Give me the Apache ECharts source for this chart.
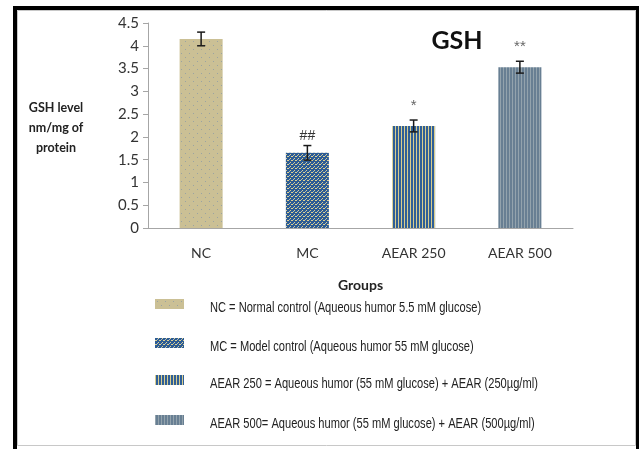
<!DOCTYPE html>
<html><head><meta charset="utf-8">
<script src="https://cdn.jsdelivr.net/npm/echarts@6/dist/echarts.min.js"></script>
<style>html,body{margin:0;padding:0;background:#fff}#c{width:639px;height:449px}</style>
</head><body><div id="c"></div>
<script>
const categories = ['NC', 'MC', 'AEAR 250', 'AEAR 500'];
const values = [4.15, 1.65, 2.24, 3.53];
const errors = [0.15, 0.16, 0.13, 0.13];
const marks = ['', '##', '*', '**'];
const legendNames = [
  'NC = Normal control (Aqueous humor 5.5 mM glucose)',
  'MC = Model control (Aqueous humor 55 mM glucose)',
  'AEAR 250 = Aqueous humor (55 mM glucose) + AEAR (250\u00b5g/ml)',
  'AEAR 500= Aqueous humor (55 mM glucose) + AEAR (500\u00b5g/ml)'
];
const yTicks = [0, 0.5, 1, 1.5, 2, 2.5, 3, 3.5, 4, 4.5];

function pat(w, h, base, draw) {
  const c = document.createElement('canvas'); c.width = w; c.height = h;
  const g = c.getContext('2d'); g.fillStyle = base; g.fillRect(0, 0, w, h); draw(g);
  return { image: c, repeat: 'repeat' };
}
const patterns = [
  pat(8, 8, '#cbc095', g => { g.fillStyle = '#9aa3a2'; g.fillRect(1, 1, 1, 1); g.fillRect(5, 5, 1, 1); }),
  pat(4, 4, '#2c5b94', g => { g.fillStyle = '#ddd192'; g.fillRect(0, 0, 1, 1); g.fillRect(2, 2, 1, 1); g.fillRect(3, 0, 1, 1); g.fillStyle = '#b3bfb6'; g.fillRect(1, 3, 1, 1); }),
  pat(3, 4, '#2f5f97', g => { g.fillStyle = '#d9cd8d'; g.fillRect(2, 0, 1, 4); }),
  pat(3, 4, '#687f93', g => { g.fillStyle = '#93a3ad'; g.fillRect(2, 0, 1, 4); })
];

const series = categories.map((c, i) => ({
  name: categories[i],
  type: 'bar',
  stack: 's',
  barWidth: 43,
  itemStyle: { color: patterns[i] },
  data: categories.map((_, j) => j === i ? values[i] : null)
}));
series.push({
  type: 'custom',
  silent: true,
  z: 10,
  data: categories.map((_, i) => [i, values[i], errors[i]]),
  renderItem: function (params, api) {
    const x = api.value(0), v = api.value(1), e = api.value(2);
    const top = api.coord([x, v + e]), bot = api.coord([x, v - e]);
    const cap = 4;
    const ls = { stroke: '#1a1a1a', lineWidth: 1.5 };
    const children = [
      { type: 'line', shape: { x1: top[0], y1: top[1], x2: bot[0], y2: bot[1] }, style: ls },
      { type: 'line', shape: { x1: top[0] - cap, y1: top[1], x2: top[0] + cap, y2: top[1] }, style: ls },
      { type: 'line', shape: { x1: bot[0] - cap, y1: bot[1], x2: bot[0] + cap, y2: bot[1] }, style: ls }
    ];
    const m = marks[params.dataIndex];
    if (m) {
      const star = m.indexOf('*') >= 0;
      children.push({ type: 'text', style: { text: m, x: top[0], y: top[1] - (star ? 7 : 2), align: 'center', verticalAlign: 'bottom', font: (star ? '15px' : '14px') + ' "Liberation Sans"', fill: star ? '#666' : '#333' } });
    }
    return { type: 'group', children: children };
  }
});

const legendTop = [304, 343, 380, 420];
const legendGraphics = [];
legendNames.forEach((n, i) => {
  legendGraphics.push({ type: 'rect', shape: { x: 155, y: legendTop[i] - 5, width: 29, height: 10 }, style: { fill: patterns[i] }, silent: true });
  legendGraphics.push({ type: 'group', x: 210, y: legendTop[i] + 4, scaleX: 0.74, silent: true,
    children: [{ type: 'text', style: { text: n, x: 0, y: 0, verticalAlign: 'middle', font: '15px "Liberation Sans"', fill: '#222' } }] });
});

const chart = echarts.init(document.getElementById('c'), null, { renderer: 'canvas' });
chart.setOption({
  animation: false,
  backgroundColor: '#fff',
  grid: { left: 148, right: 66, top: 23, bottom: 221, containLabel: false },
  xAxis: {
    type: 'category', data: categories,
    name: 'Groups', nameLocation: 'middle', nameGap: 50,
    nameTextStyle: { fontFamily: 'Lato', fontWeight: 'bold', fontSize: 14, color: '#222' },
    axisLine: { lineStyle: { color: '#a6a6a6', width: 1 } },
    axisTick: { show: false },
    axisLabel: { margin: 18, fontFamily: 'Lato', fontSize: 14, color: '#333' }
  },
  yAxis: {
    type: 'value', min: 0, max: 4.5, interval: 0.5,
    axisLine: { show: true, lineStyle: { color: '#a6a6a6', width: 1 } },
    axisTick: { show: true, length: 5, lineStyle: { color: '#a6a6a6' } },
    splitLine: { show: false },
    axisLabel: { margin: 9, fontFamily: 'Lato', fontSize: 15, color: '#333',
      formatter: v => yTicks.indexOf(v) >= 0 ? String(v) : '' }
  },
  graphic: [
    { type: 'rect', shape: { x: 15, y: 8, width: 623, height: 445 }, style: { fill: null, stroke: '#000', lineWidth: 4 }, silent: true },
    { type: 'rect', shape: { x: 17.5, y: 10.5, width: 618, height: 435 }, style: { fill: null, stroke: '#c8c8c8', lineWidth: 1 }, silent: true },
    { type: 'text', style: { text: 'GSH', x: 457, y: 41, align: 'center', verticalAlign: 'middle', font: 'bold 25px Lato', fill: '#111' } },
    { type: 'text', style: { text: 'GSH level\nnm/mg of\nprotein', x: 56, y: 128, align: 'center', verticalAlign: 'middle', font: 'bold 12.5px Lato', lineHeight: 20, fill: '#222' } }
  ].concat(legendGraphics),
  series: series
});
</script></body></html>
